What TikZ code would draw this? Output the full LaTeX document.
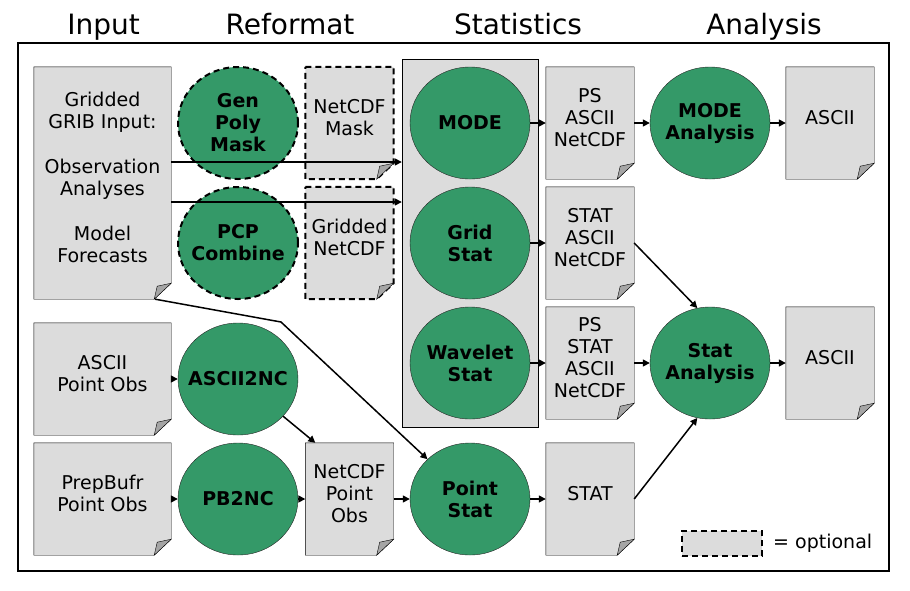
\documentclass[tikz,border=0pt]{standalone}
\usepackage{fontspec}
\setmainfont{DejaVu Sans}
\usetikzlibrary{arrows.meta,shapes.geometric,backgrounds}

\definecolor{docgray}{RGB}{220,220,220}
\definecolor{foldgray}{RGB}{165,165,165}
\definecolor{toolgreen}{RGB}{52,153,104}

\tikzset{
  doc/.style={minimum width=88pt,minimum height=112pt,inner sep=0pt,align=center,
    font=\fontsize{19}{22}\selectfont,execute at end node={\rule[-12pt]{0pt}{12pt}}},
  tool/.style={ellipse,draw=black!85,fill=toolgreen,minimum width=120pt,minimum height=112pt,
    inner xsep=-12pt,inner ysep=0pt,align=center,font=\fontsize{19}{22}\selectfont\bfseries},
  optional/.style={draw=black,line width=2pt,dash pattern=on 6pt off 4pt},
  head/.style={anchor=base,font=\fontsize{28}{32}\selectfont},
}

\begin{document}
\begin{tikzpicture}[x=1pt,y=-1pt]
\useasboundingbox (0,0) rectangle (910,590);
\draw[line width=2pt] (18,43) rectangle (889,571);

\node[head] (hinput) at (103.5,34) {Input};
\node[head] (hreformat) at (290,34) {Reformat};
\node[head] (hstats) at (518,34) {Statistics};
\node[head] (hanalysis) at (764,34) {Analysis};

\node[draw,fill=docgray,minimum width=136pt,minimum height=368pt,inner sep=0pt] (statbox) at (470,243) {};

\begin{scope}[every node/.style={doc}]
    \node[minimum width=137pt,minimum height=232pt] (grib) at (102.5,183)
        {Gridded\\GRIB Input:\\[23pt]Observation\\Analyses\\[23pt]Model\\Forecasts};
    \node[minimum width=137pt] (asciiobs) at (102.5,379) {ASCII\\Point Obs};
    \node[minimum width=137pt] (prepbufr) at (102.5,499) {PrepBufr\\Point Obs};
    \node (mask) at (349.5,123) {NetCDF\\Mask};
    \node (gridnc) at (349.5,243) {Gridded\\NetCDF};
    \node (ncobs) at (349.5,499) {NetCDF\\Point\\Obs};
    \node (modeout) at (590,123) {PS\\ASCII\\NetCDF};
    \node (gridout) at (590,243) {STAT\\ASCII\\NetCDF};
    \node (waveout) at (590,363) {PS\\STAT\\ASCII\\NetCDF};
    \node (pointout) at (590,499) {STAT};
    \node (modeascii) at (830,123) {ASCII};
    \node (statascii) at (830,363) {ASCII};
\end{scope}

\begin{scope}[every node/.style={tool}]
    \node[optional] (genpoly) at (238,123) {Gen\\Poly\\Mask};
    \node[optional] (pcp) at (238,243) {PCP\\Combine};
    \node (ascii2nc) at (238,379) {ASCII2NC};
    \node (pb2nc) at (238,499) {PB2NC};
    \node (mode) at (470,123) {MODE};
    \node (gridstat) at (470,243) {Grid\\Stat};
    \node (wavelet) at (470,363) {Wavelet\\Stat};
    \node (pointstat) at (470,499) {Point\\Stat};
    \node (modean) at (710,123) {MODE\\Analysis};
    \node (statan) at (710,363) {Stat\\Analysis};
\end{scope}

\begin{scope}[on background layer]
    \foreach \n in {grib,asciiobs,prepbufr,ncobs,modeout,gridout,waveout,pointout,modeascii,statascii}
        \draw[fill=docgray] (\n.north west) -- (\n.north east) -- ([yshift=16pt]\n.south east)
            -- ([xshift=-17pt]\n.south east) -- (\n.south west) -- cycle;
    \foreach \n in {mask,gridnc}
        \draw[optional,fill=docgray] (\n.north west) -- (\n.north east) -- ([yshift=16pt]\n.south east)
            -- ([xshift=-17pt]\n.south east) -- (\n.south west) -- cycle;
\end{scope}
\foreach \n in {grib,asciiobs,prepbufr,ncobs,modeout,gridout,waveout,pointout,modeascii,statascii,mask,gridnc}
    \draw[fill=foldgray] ([yshift=16pt]\n.south east) -- ([xshift=-17pt]\n.south east)
        -- ([xshift=-14pt,yshift=13pt]\n.south east) -- cycle;

\node[optional,fill=docgray,minimum width=80pt,minimum height=25pt] (legend) at (722,543.5) {};
\node[anchor=west,inner sep=0pt,font=\fontsize{19}{22}\selectfont] (legendtext) at ([xshift=10pt]legend.east) {= optional};

\coordinate (kink) at (281,322);

\begin{scope}[every edge/.style={draw=black,line width=1.5pt,-{Triangle[length=7pt,width=7pt]}}]
    \path ([yshift=21pt]grib.east) edge ([yshift=21pt]grib.east -| statbox.west);
    \path ([yshift=-19pt]grib.east) edge ([yshift=-19pt]grib.east -| statbox.west);
    \path (asciiobs) edge (ascii2nc);
    \path (prepbufr) edge (pb2nc);
    \path (ascii2nc) edge ([xshift=10pt]ncobs.north west);
    \path (pb2nc) edge (ncobs);
    \path (ncobs) edge (pointstat);
    \path (mode) edge (modeout);
    \path (gridstat) edge (gridout);
    \path (wavelet) edge (waveout);
    \path (pointstat) edge (pointout);
    \path (modeout) edge (modean);
    \path (waveout) edge (statan);
    \path (modean) edge (modeascii);
    \path (statan) edge (statascii);
    \path (gridout.east) edge (statan.103);
    \path (pointout.east) edge (statan.-103);
\end{scope}
\draw[line width=1.5pt,-{Triangle[length=7pt,width=7pt]}] ([xshift=-16pt]grib.south east) -- (kink) -- (pointstat);
\end{tikzpicture}
\end{document}
